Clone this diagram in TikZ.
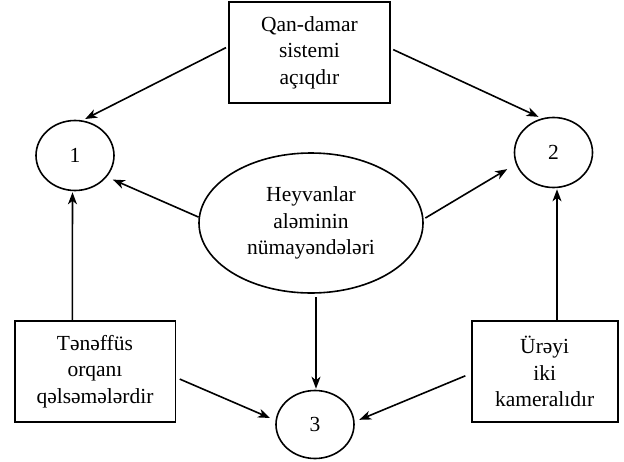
\documentclass[tikz,border=0pt]{standalone}
\usepackage{fontspec}
\setmainfont{Liberation Serif}
\usetikzlibrary{arrows.meta,shapes.geometric}
\begin{document}
\begin{tikzpicture}[x=1pt,y=-1pt,
  every node/.style={font=\fontsize{21.5}{26.5}\selectfont, inner sep=0pt, line width=1.6pt},
  boxn/.style={draw, rectangle, align=center, minimum width=#1, minimum height=101pt},
  oval/.style={draw, ellipse, minimum width=78pt, minimum height=70pt},
  arr/.style={line width=1.6pt, -{Stealth[length=12pt,width=9pt,inset=3.5pt]}}]
\useasboundingbox (0,0) rectangle (624,461);
\node[boxn=161pt] (top) at (309.5,52.5) {Qan-damar\\sistemi\\açıqdır};
\node[oval] (c1) at (75,155.5) {1};
\node[oval] (c2) at (553.5,152.5) {2};
\node[draw, ellipse, minimum width=224pt, minimum height=140pt, align=center] (E) at (311,223) {Heyvanlar\\aləminin\\nümayəndələri};
\node[oval, minimum height=68pt] (c3) at (315,424.5) {3};
\node[boxn=160.6pt] (lb) at (95,371.5) {Tənəffüs\\orqanı\\qəlsəmələrdir};
\node[boxn=146pt] (rb) at (544.7,371.5) {Ürəyi\\iki\\kameralıdır};
\draw[arr, shorten <=2.5pt, shorten >=3pt] ([yshift=6pt]top.west) -- (c1.78);
\draw[arr, shorten <=2.7pt, shorten >=3.5pt] ([yshift=4pt]top.east) -- (c2.109);
\draw[arr, shorten >=6.5pt] (E.177) -- (c1.-34);
\draw[arr, shorten <=2pt, shorten >=10pt] (E.2.5) -- (c2.197);
\draw[arr, shorten <=3.5pt, shorten >=1pt] ([xshift=5pt]E.south) -- ([xshift=1pt]c3.north);
\draw[arr, shorten >=1pt] ([xshift=-22.7pt]lb.north) -- ([xshift=-2.5pt]c1.south);
\draw[arr, shorten <=4pt, shorten >=6pt] ([yshift=-6pt]lb.east) -- (c3.174);
\draw[arr, shorten <=6pt, shorten >=5pt] ([yshift=-2pt]rb.west) -- (c3.4);
\draw[arr, shorten >=1pt] ([xshift=12.3pt]rb.north) -- ([xshift=3.5pt]c2.south);
\end{tikzpicture}
\end{document}
